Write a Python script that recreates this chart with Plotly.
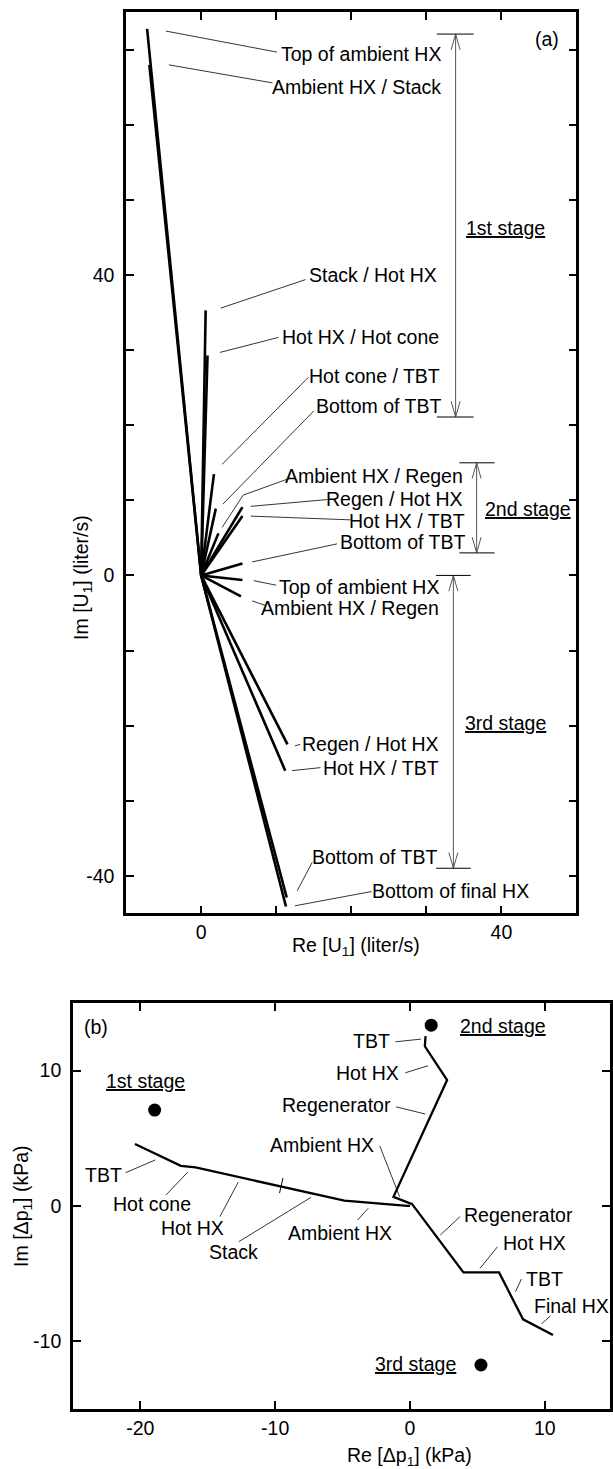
import plotly.graph_objects as go

W, H = 613, 1469
FONT = "Liberation Sans, Arial, sans-serif"
FS = 19.5

# ---------------- Panel (a): U1 phasors (liter/s) ----------------
a_stage1_re = [-7.2, -6.9, 0.6, 0.85, 1.7, 1.95]
a_stage1_im = [72.8, 68.0, 35.3, 29.3, 13.5, 8.9]
a_stage2_re = [2.3, 5.5, 5.5, 5.5]
a_stage2_im = [5.6, 9.1, 7.9, 1.6]
a_stage3_re = [5.5, 5.3, 11.5, 11.2, 11.4, 11.3]
a_stage3_im = [-0.6, -2.8, -22.5, -26.0, -42.9, -44.1]

a_label_text = ["Top of ambient HX", "Ambient HX / Stack", "Stack / Hot HX",
                "Hot HX / Hot cone", "Hot cone / TBT", "Bottom of TBT",
                "Ambient HX / Regen", "Regen / Hot HX", "Hot HX / TBT", "Bottom of TBT",
                "Top of ambient HX", "Ambient HX / Regen", "Regen / Hot HX",
                "Hot HX / TBT", "Bottom of TBT", "Bottom of final HX"]
a_label_x = [32.2, 32.2, 31.7, 31.9, 32.1, 32.2,
             35.2, 35.2, 35.4, 35.4,
             31.9, 32.0, 32.0, 31.9, 31.7, 43.9]
a_label_y = [69.5, 65.0, 40.0, 31.8, 26.6, 22.5,
             13.3, 10.2, 7.3, 4.4,
             -1.5, -4.4, -22.5, -25.6, -37.5, -42.0]
a_leader_x = [[-4.7, 10.1], [-4.3, 9.5], [13.9, 2.6], [10.3, 2.5], [14.3, 2.8], [15.0, 2.9],
              [11.7, 5.6, 2.8], [16.8, 6.6], [19.9, 6.6], [18.1, 6.8],
              [10.0, 7.0], [8.6, 6.8], [12.5, 13.2], [15.9, 12.1], [14.8, 12.8], [22.7, 12.5]]
a_leader_y = [[72.5, 69.7], [68.0, 65.6], [39.4, 35.6], [31.7, 29.7], [26.4, 14.8], [21.9, 9.5],
              [12.9, 10.7, 6.4], [10.1, 9.2], [7.4, 7.9], [4.2, 1.8],
              [-1.3, -0.7], [-4.0, -3.4], [-22.7, -22.5], [-25.6, -26.0], [-38.2, -42.0], [-42.1, -44.0]]

a_stage_text = ["1st stage", "2nd stage", "3rd stage"]
a_stage_label_x = [40.5, 43.6, 40.5]
a_stage_label_y = [46.3, 8.8, -19.7]
a_bracket_x = [33.9, 36.7, 33.6]
a_bracket_top = [72.1, 15.0, 0.0]
a_bracket_bottom = [21.1, 3.0, -39.0]
a_bar_left = [31.4, 34.4, 31.3]
a_bar_right = [36.3, 39.1, 35.9]

# ---------------- Panel (b): pressure drops dp1 (kPa) ----------------
b_stage1_re = [-20.4, -17.0, -15.9, -4.87, -0.2, 0.0]
b_stage1_im = [4.57, 2.96, 2.84, 0.38, 0.0, 0.0]
b_stage2_re = [0.1, -1.23, 2.75, 1.1, 1.15]
b_stage2_im = [0.15, 0.67, 9.3, 11.8, 12.55]
b_stage3_re = [0.1, 3.96, 6.6, 8.38, 10.6]
b_stage3_im = [0.2, -4.92, -4.92, -8.39, -9.55]
b_mark_re = [-9.55]
b_mark_im = [1.5]

b_dot_re = [-18.94, 1.57, 5.26]
b_dot_im = [7.08, 13.36, -11.77]
b_stage_text = ["1st stage", "2nd stage", "3rd stage"]
b_stage_label_x = [-19.6, 3.59, 3.54]
b_stage_label_y = [9.25, 13.3, -11.7]
b_stage_anchor = ["center", "left", "right"]

b_label_text = ["TBT", "Hot HX", "Regenerator", "Ambient HX",
                "TBT", "Hot cone", "Hot HX", "Stack", "Ambient HX",
                "Regenerator", "Hot HX", "TBT", "Final HX"]
b_label_x = [-1.32, -0.66, -1.28, -2.49,
             -21.2, -19.1, -16.1, -13.1, -5.18,
             3.88, 6.74, 8.46, 9.08]
b_label_y = [12.18, 9.84, 7.45, 4.49,
             2.28, 0.11, -1.66, -3.44, -1.99,
             -0.68, -2.72, -5.41, -7.41]
b_label_anchor = ["right", "right", "right", "right",
                  "right", "center", "center", "center", "center",
                  "left", "left", "left", "left"]
b_leader_x = [[-1.08, 0.81], [-0.35, 1.33], [-1.03, 1.13], [-2.24, -0.77],
              [-21.1, -18.9], [-18.1, -16.5], [-14.1, -12.75], [-12.7, -7.34], [-3.89, -3.1],
              [3.71, 2.24], [6.49, 5.19], [8.26, 7.82], [10.4, 9.74]]
b_leader_y = [[12.13, 12.33], [9.84, 10.36], [7.32, 6.79], [4.42, 0.67],
              [2.45, 3.39], [0.8, 2.48], [-0.8, 1.74], [-2.65, 0.63], [-1.05, -0.18],
              [-0.8, -2.16], [-3.02, -4.62], [-5.41, -6.35], [-8.14, -8.74]]

# tick values
a_xlabels = [0, 40]
a_xminor = [0, 10, 20, 30, 40]
a_ylabels = [-40, 0, 40]
a_yminor = [-40, -30, -20, -10, 0, 10, 20, 30, 40, 50, 60, 70]
b_xticks = [-20, -10, 0, 10]
b_yticks = [-10, 0, 10]


def rays(re, im):
    xs, ys = [], []
    for r, i in zip(re, im):
        xs += [0, r, None]
        ys += [0, i, None]
    return xs, ys


def polylines(lx, ly):
    xs, ys = [], []
    for a, b in zip(lx, ly):
        xs += list(a) + [None]
        ys += list(b) + [None]
    return xs, ys


fig = go.Figure()

# panel (a) phasor rays
for re, im in [(a_stage1_re, a_stage1_im), (a_stage2_re, a_stage2_im), (a_stage3_re, a_stage3_im)]:
    xs, ys = rays(re, im)
    fig.add_trace(go.Scatter(x=xs, y=ys, mode="lines", line=dict(color="black", width=2.6),
                             xaxis="x", yaxis="y", showlegend=False, hoverinfo="skip"))

# panel (a) leaders
xs, ys = polylines(a_leader_x, a_leader_y)
fig.add_trace(go.Scatter(x=xs, y=ys, mode="lines", line=dict(color="black", width=0.8),
                         xaxis="x", yaxis="y", showlegend=False, hoverinfo="skip"))

# panel (a) stage brackets: double arrows + end bars
HL, HW = 2.1, 0.6
arr_x, arr_y, bar_x, bar_y = [], [], [], []
for x, t, b, l, r in zip(a_bracket_x, a_bracket_top, a_bracket_bottom, a_bar_left, a_bar_right):
    arr_x += [x, x, None, x - HW, x, x + HW, None, x - HW, x, x + HW, None]
    arr_y += [t, b, None, t - HL, t, t - HL, None, b + HL, b, b + HL, None]
    bar_x += [l, r, None, l, r, None]
    bar_y += [t, t, None, b, b, None]
fig.add_trace(go.Scatter(x=arr_x, y=arr_y, mode="lines", line=dict(color="#555555", width=1),
                         xaxis="x", yaxis="y", showlegend=False, hoverinfo="skip"))
fig.add_trace(go.Scatter(x=bar_x, y=bar_y, mode="lines", line=dict(color="black", width=1),
                         xaxis="x", yaxis="y", showlegend=False, hoverinfo="skip"))

# panel (b) curves
for re, im in [(b_stage1_re, b_stage1_im), (b_stage2_re, b_stage2_im), (b_stage3_re, b_stage3_im)]:
    fig.add_trace(go.Scatter(x=re, y=im, mode="lines", line=dict(color="black", width=2.3),
                             xaxis="x2", yaxis="y2", showlegend=False, hoverinfo="skip"))
fig.add_trace(go.Scatter(x=b_mark_re, y=b_mark_im, mode="markers",
                         marker=dict(symbol="line-ns", size=11, angle=13,
                                     line=dict(color="black", width=1)),
                         xaxis="x2", yaxis="y2", showlegend=False, hoverinfo="skip"))
fig.add_trace(go.Scatter(x=b_dot_re, y=b_dot_im, mode="markers",
                         marker=dict(color="black", size=13),
                         xaxis="x2", yaxis="y2", showlegend=False, hoverinfo="skip"))
xs, ys = polylines(b_leader_x, b_leader_y)
fig.add_trace(go.Scatter(x=xs, y=ys, mode="lines", line=dict(color="black", width=0.8),
                         xaxis="x2", yaxis="y2", showlegend=False, hoverinfo="skip"))

ann = []
for t, x, y in zip(a_label_text, a_label_x, a_label_y):
    ann.append(dict(text=t, x=x, y=y, xref="x", yref="y", xanchor="right", yanchor="middle",
                    showarrow=False, font=dict(size=FS)))
for t, x, y in zip(a_stage_text, a_stage_label_x, a_stage_label_y):
    ann.append(dict(text="<u>" + t + "</u>", x=x, y=y, xref="x", yref="y", xanchor="center",
                    yanchor="middle", showarrow=False, font=dict(size=FS)))
ann.append(dict(text="(a)", x=46.1, y=71.4, xref="x", yref="y", xanchor="center", yanchor="middle",
                showarrow=False, font=dict(size=FS)))

for t, x, y, a in zip(b_label_text, b_label_x, b_label_y, b_label_anchor):
    ann.append(dict(text=t, x=x, y=y, xref="x2", yref="y2", xanchor=a, yanchor="middle",
                    showarrow=False, font=dict(size=FS)))
for t, x, y, a in zip(b_stage_text, b_stage_label_x, b_stage_label_y, b_stage_anchor):
    ann.append(dict(text="<u>" + t + "</u>", x=x, y=y, xref="x2", yref="y2", xanchor=a,
                    yanchor="middle", showarrow=False, font=dict(size=FS)))
ann.append(dict(text="(b)", x=-23.3, y=13.24, xref="x2", yref="y2", xanchor="center", yanchor="middle",
                showarrow=False, font=dict(size=FS)))

# axis titles (paper coordinates, explicitly centred)
titles = [("Re [U<sub>1</sub>] (liter/s)", 358, 946.7, 0),
          ("Im [U<sub>1</sub>] (liter/s)", 82.3, 577, -90),
          ("Re [Δp<sub>1</sub>] (kPa)", 412, 1456.7, 0),
          ("Im [Δp<sub>1</sub>] (kPa)", 22, 1206, -90)]
for t, px, py, ang in titles:
    ann.append(dict(text=t, x=px / W, y=1 - py / H, xref="paper", yref="paper",
                    xanchor="center", yanchor="middle", showarrow=False, textangle=ang,
                    font=dict(size=FS)))

axis_common = dict(showgrid=False, zeroline=False, showline=True, linewidth=2.5, linecolor="black",
                   mirror="ticks", ticks="inside", ticklen=8, tickwidth=2, tickcolor="black",
                   tickfont=dict(size=FS, color="black"))
minor_common = dict(ticks="inside", ticklen=8, tickwidth=2, tickcolor="black", showgrid=False)

fig.update_layout(
    width=W, height=H, margin=dict(l=0, r=0, t=0, b=0),
    paper_bgcolor="white", plot_bgcolor="white",
    font=dict(family=FONT, size=FS, color="black"),
    showlegend=False,
    xaxis=dict(domain=[126.7 / W, 579.3 / W], range=[-10, 50], anchor="y",
               tickvals=a_xlabels, ticktext=[str(v) for v in a_xlabels],
               minor=dict(tickvals=a_xminor, **minor_common), **axis_common),
    yaxis=dict(domain=[1 - 913.3 / H, 1 - 12.3 / H], range=[-45, 75], anchor="x",
               tickvals=a_ylabels, ticktext=[str(v) for v in a_ylabels],
               minor=dict(tickvals=a_yminor, **minor_common), ticklabelstandoff=5, **axis_common),
    xaxis2=dict(domain=[73.3 / W, 1.0], range=[-25, 14.83], anchor="y2",
                tickvals=b_xticks, ticktext=[str(v) for v in b_xticks], **axis_common),
    yaxis2=dict(domain=[1 - 1408.7 / H, 1 - 1003 / H], range=[-15, 15], anchor="x2",
                tickvals=b_yticks, ticktext=[str(v) for v in b_yticks], ticklabelstandoff=5,
                **axis_common),
    annotations=ann,
)

fig.write_html("out.html", config={"displayModeBar": False},
               post_script="document.body.style.margin='0';document.body.style.overflow='hidden';")
